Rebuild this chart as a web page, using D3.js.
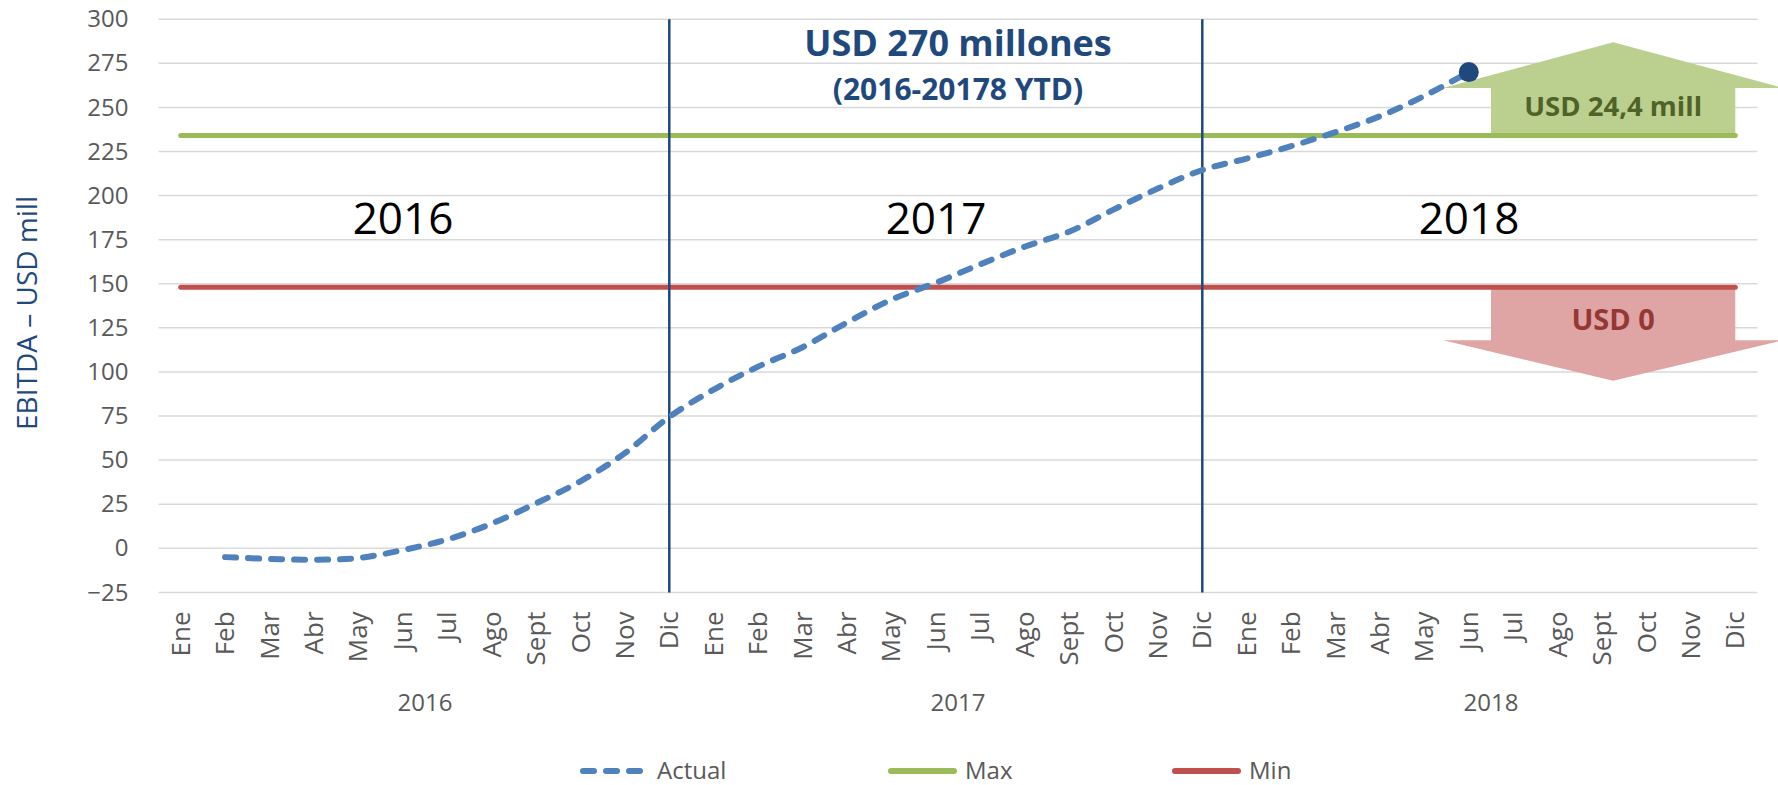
<!DOCTYPE html>
<html><head><meta charset="utf-8">
<script src="https://cdn.jsdelivr.net/npm/d3@7"></script>
<style>body{margin:0;background:#fff} svg{display:block;font-family:"Open Sans",sans-serif}</style>
</head><body>
<svg id="chart" width="1778" height="785"></svg>
<script>
// ---------- data ----------
const years = ["2016", "2017", "2018"];
const months = ["Ene","Feb","Mar","Abr","May","Jun","Jul","Ago","Sept","Oct","Nov","Dic"];
const actual = [
  null, -5, -6, -6.5, -5.5, -1, 5, 14, 25.5, 38, 54, 74.5,
  90, 103, 114, 128, 141, 150.5, 161, 171, 179.5, 192, 204, 214.5,
  221, 228, 236, 245, 256.5, 270, null, null, null, null, null, null
];
const maxLevel = 234;
const minLevel = 148;
const yTicks = [-25, 0, 25, 50, 75, 100, 125, 150, 175, 200, 225, 250, 275, 300];
const dividerKeys = ["2016|Dic", "2017|Dic"];
const yearLabelValue = 187;
const headline = ["USD 270 millones", "(2016-20178 YTD)"];
const headlineValues = [286.5, 260];
const upArrow = { label: "USD 24,4 mill", base: 234, shoulder: 261, tip: 287, labelValue: 250.5 };
const downArrow = { label: "USD 0", base: 148, shoulder: 118, tip: 95, labelValue: 129.5 };
const legendItems = ["Actual", "Max", "Min"];

// ---------- layout ----------
const plotL = 158.5, plotR = 1757.5, plotT = 19.2, plotB = 592.4;
const svg = d3.select("#chart");

const categories = [];
years.forEach(yr => months.forEach(m => categories.push(yr + "|" + m)));
const maxSeries = categories.map(() => maxLevel);
const minSeries = categories.map(() => minLevel);

const x = d3.scaleBand().domain(categories).range([plotL, plotR]).padding(0);
const xc = k => x(k) + x.bandwidth() / 2;
const y = d3.scaleLinear().domain([-25, 300]).range([plotB, plotT]);

const C = {
  grid: "#d9d9d9", tick: "#595959", actual: "#4f81bd", max: "#9bbb59", min: "#c0504d",
  divider: "#1f497d", title: "#1f497d"
};

// gridlines
svg.append("g").selectAll("line").data(yTicks).join("line")
  .attr("x1", plotL).attr("x2", plotR)
  .attr("y1", d => y(d)).attr("y2", d => y(d))
  .attr("stroke", C.grid).attr("stroke-width", 1.5);

// y axis labels
const yAxis = d3.axisLeft(y).tickValues(yTicks).tickSize(0).tickPadding(0);
const gy = svg.append("g").attr("transform", `translate(${plotL - 30},0)`).call(yAxis);
gy.select(".domain").remove();
gy.selectAll("text").attr("font-size", 24).attr("fill", C.tick).attr("font-family", "Open Sans");

// x axis month labels
const xAxis = d3.axisBottom(x).tickSize(0).tickFormat(d => d.split("|")[1]);
const gx = svg.append("g").attr("transform", `translate(0,${plotB})`).call(xAxis);
gx.select(".domain").remove();
gx.selectAll("text")
  .attr("font-size", 26).attr("fill", C.tick).attr("font-family", "Open Sans")
  .attr("transform", "rotate(-90)")
  .attr("text-anchor", "end").attr("dy", "0.35em").attr("x", -19).attr("y", 0);

// year group labels
svg.append("g").selectAll("text").data(years).join("text")
  .attr("x", d => (xc(d + "|Ene") + xc(d + "|Dic")) / 2)
  .attr("y", 703).attr("dy", "0.35em")
  .attr("text-anchor", "middle").attr("font-size", 24).attr("fill", C.tick)
  .text(d => d);

// arrows (drawn before lines)
function arrow(a, fill) {
  const bx0 = x("2018|Jul"), bx1 = xc("2018|Dic");
  const cx = (bx0 + bx1) / 2, half = 170;
  const pts = [[bx0, y(a.base)], [bx0, y(a.shoulder)], [cx - half, y(a.shoulder)], [cx, y(a.tip)],
               [cx + half, y(a.shoulder)], [bx1, y(a.shoulder)], [bx1, y(a.base)]];
  svg.append("polygon").attr("points", pts.map(p => p.join(",")).join(" "))
    .attr("fill", fill);
  return cx;
}
const upCx = arrow(upArrow, "#bbd08f");
const downCx = arrow(downArrow, "#dfa4a4");

// max / min lines
const lineGen = d3.line().x((d, i) => xc(categories[i])).y(d => y(d));
svg.append("path").attr("d", lineGen(maxSeries)).attr("fill", "none")
  .attr("stroke", C.max).attr("stroke-width", 5).attr("stroke-linecap", "round");
svg.append("path").attr("d", lineGen(minSeries)).attr("fill", "none")
  .attr("stroke", C.min).attr("stroke-width", 5).attr("stroke-linecap", "round");

// arrow labels
svg.append("text").attr("x", upCx).attr("y", y(upArrow.labelValue)).attr("dy", "0.35em")
  .attr("text-anchor", "middle").attr("font-size", 27.5).attr("font-weight", "bold")
  .attr("fill", "#4f6228").text(upArrow.label);
svg.append("text").attr("x", downCx).attr("y", y(downArrow.labelValue)).attr("dy", "0.35em")
  .attr("text-anchor", "middle").attr("font-size", 29).attr("font-weight", "bold")
  .attr("fill", "#953735").text(downArrow.label);

// year dividers
svg.append("g").selectAll("line").data(dividerKeys).join("line")
  .attr("x1", d => xc(d)).attr("x2", d => xc(d))
  .attr("y1", y(300)).attr("y2", y(-25))
  .attr("stroke", C.divider).attr("stroke-width", 2.5);

// big year labels
svg.append("g").selectAll("text").data(years).join("text")
  .attr("x", d => (xc(d + "|Ene") + xc(d + "|Dic")) / 2 - 22)
  .attr("y", y(yearLabelValue)).attr("dy", "0.35em")
  .attr("text-anchor", "middle").attr("font-size", 44).attr("fill", "#000")
  .text(d => d);

// headline
const hx = (xc("2017|Ene") + xc("2017|Dic")) / 2;
svg.append("text").attr("x", hx).attr("y", y(headlineValues[0])).attr("dy", "0.35em")
  .attr("text-anchor", "middle").attr("font-size", 36).attr("font-weight", "bold")
  .attr("fill", C.title).text(headline[0]);
svg.append("text").attr("x", hx).attr("y", y(headlineValues[1])).attr("dy", "0.35em")
  .attr("text-anchor", "middle").attr("font-size", 30).attr("font-weight", "bold")
  .attr("fill", C.title).text(headline[1]);

// actual line
const actualLine = d3.line()
  .defined(d => d != null)
  .x((d, i) => xc(categories[i])).y(d => y(d))
  .curve(d3.curveCatmullRom.alpha(0.5));
svg.append("path").attr("d", actualLine(actual)).attr("fill", "none")
  .attr("stroke", C.actual).attr("stroke-width", 6)
  .attr("stroke-dasharray", "11 12").attr("stroke-linecap", "round");

// last point
let lastIdx = -1;
actual.forEach((v, i) => { if (v != null) lastIdx = i; });
svg.append("circle").attr("cx", xc(categories[lastIdx])).attr("cy", y(actual[lastIdx]))
  .attr("r", 10).attr("fill", "#1f497d");

// y axis title
svg.append("text").attr("transform", `translate(27,313) rotate(-90)`)
  .attr("text-anchor", "middle").attr("dy", "0.35em").attr("font-size", 28).attr("fill", C.title)
  .text("EBITDA – USD mill");

// legend
const legendX = [580, 888, 1172];
const legendColors = [C.actual, C.max, C.min];
const lg = svg.append("g").selectAll("g").data(legendItems).join("g")
  .attr("transform", (d, i) => `translate(${legendX[i]},771)`);
lg.append("line").attr("x1", 3).attr("x2", 66).attr("y1", 0).attr("y2", 0)
  .attr("stroke", (d, i) => legendColors[i]).attr("stroke-width", 6).attr("stroke-linecap", "round")
  .attr("stroke-dasharray", (d, i) => i === 0 ? "11 12" : null);
lg.append("text").attr("x", 77).attr("y", 0).attr("dy", "0.35em")
  .attr("font-size", 24).attr("fill", C.tick).text(d => d);
</script>
</body></html>
